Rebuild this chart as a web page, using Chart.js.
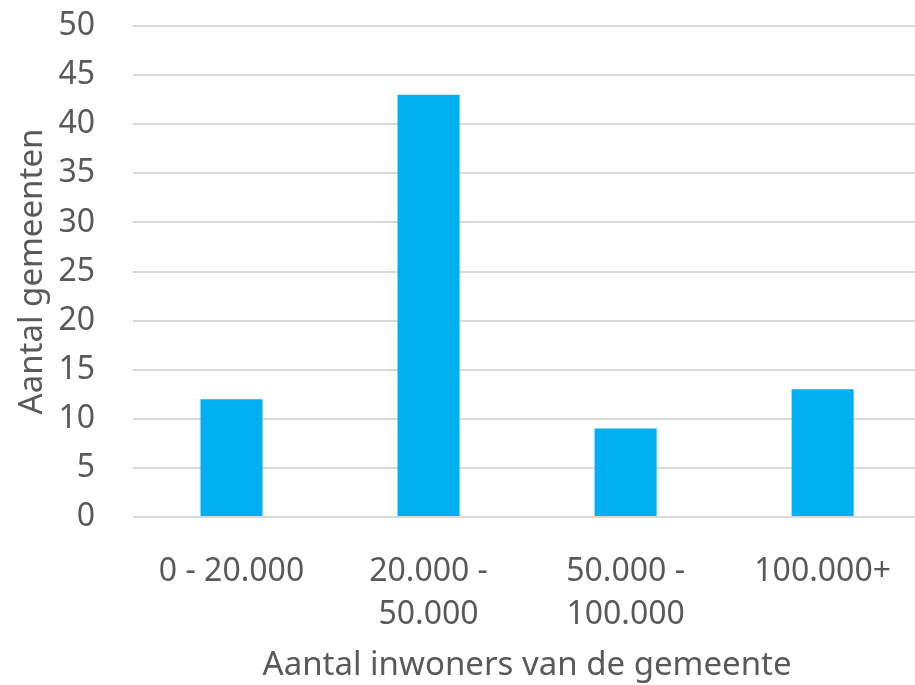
<!DOCTYPE html>
<html>
<head>
<meta charset="utf-8">
<script src="https://cdn.jsdelivr.net/npm/chart.js@4"></script>
<style>
  html, body { margin: 0; padding: 0; background: #fff; overflow: hidden; }
  /* plot area runs a little past the right edge, like the original */
  #wrap { width: 924px; height: 685px; }
</style>
</head>
<body>
<div id="wrap"><canvas id="chart"></canvas></div>
<script>
const categories = ['0 - 20.000', ['20.000 -', '50.000'], ['50.000 -', '100.000'], '100.000+'];
const gemeenten = [12, 43, 9, 13];
const yTicks = [0, 5, 10, 15, 20, 25, 30, 35, 40, 45, 50];

const textColor = '#595959';
const gridColor = '#d9d9d9';
const fontFamily = '"Noto Sans", "Open Sans", sans-serif';

new Chart(document.getElementById('chart'), {
  type: 'bar',
  data: {
    labels: categories,
    datasets: [{
      data: gemeenten,
      backgroundColor: '#00b0f0',
      categoryPercentage: 1,
      barPercentage: 0.315
    }]
  },
  options: {
    responsive: true,
    maintainAspectRatio: false,
    animation: false,
    layout: { padding: { top: 26, right: 0, bottom: 0, left: 0 } },
    plugins: { legend: { display: false }, tooltip: { enabled: false } },
    scales: {
      x: {
        afterFit: scale => { scale.height = 168; },
        grid: { display: false, drawTicks: false },
        border: { display: false },
        ticks: {
          color: textColor,
          font: { family: fontFamily, size: 32, lineHeight: 1.35 },
          maxRotation: 0,
          autoSkip: false,
          padding: 33
        },
        title: {
          display: true,
          text: 'Aantal inwoners van de gemeente',
          color: textColor,
          font: { family: fontFamily, size: 33 },
          padding: { top: 14, bottom: 0 }
        }
      },
      y: {
        min: 0,
        max: 50,
        afterFit: scale => {
          scale.width = 133;
          scale.paddingTop = 0;
          scale.paddingBottom = 0;
        },
        afterBuildTicks: scale => { scale.ticks = yTicks.map(v => ({ value: v })); },
        grid: { color: gridColor, lineWidth: 2, drawTicks: false },
        border: { display: false },
        ticks: {
          color: textColor,
          font: { family: fontFamily, size: 32 },
          padding: 38
        },
        title: {
          display: true,
          text: 'Aantal gemeenten',
          color: textColor,
          font: { family: fontFamily, size: 33 },
          padding: { top: 13, bottom: 6 }
        }
      }
    }
  }
});
</script>
</body>
</html>
